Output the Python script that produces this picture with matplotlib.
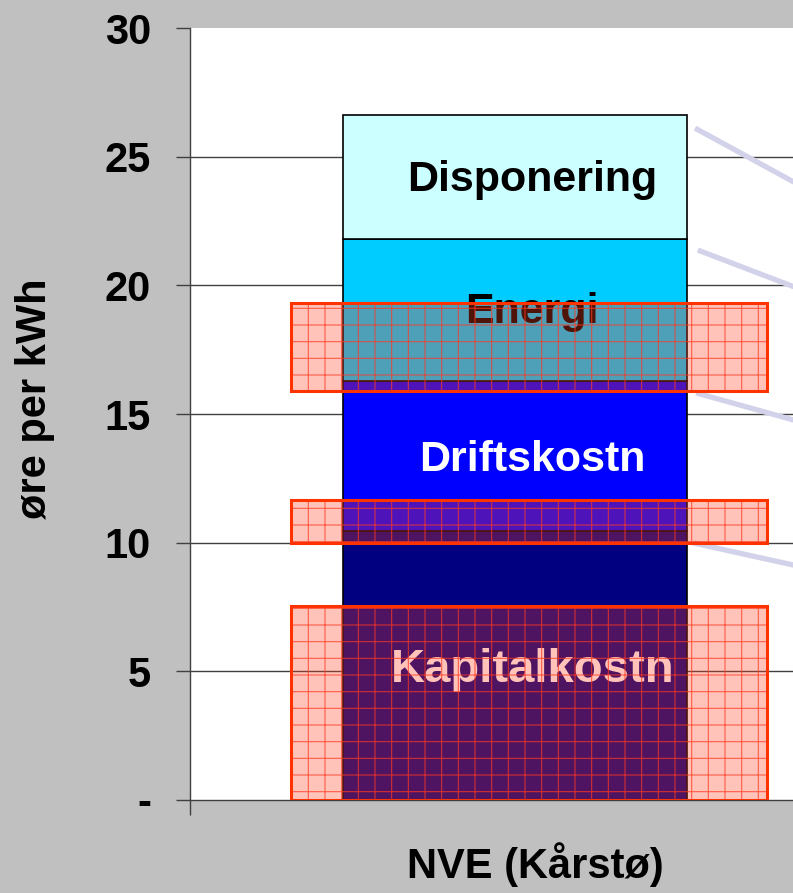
import matplotlib
matplotlib.use("Agg")
import matplotlib.pyplot as plt
import numpy as np

plt.rcParams['font.family'] = ['Liberation Sans', 'DejaVu Sans']
plt.rcParams['hatch.linewidth'] = 0.8

# ---- data ----
category = "NVE (Kårstø)"
segment_names = ["Kapitalkostn", "Driftskostn", "Energi", "Disponering"]
segment_values = [10.45, 5.85, 5.5, 4.8]          # stacked, øre per kWh
segment_colors = ["#000080", "#0000ff", "#00ccff", "#ccffff"]
label_colors = ["white", "white", "black", "black"]
label_sizes = [34, 31, 31, 31]
label_y = [5.05, 13.2, 18.95, 24.1]

# highlighted ranges (bottom, top)
band_bottoms = [0.0, 10.0, 15.9]
band_tops = [7.55, 11.65, 19.3]

# leader lines (x0, y0, x1, y1) in data units
leader_x0 = [0.314, 0.319, 0.316, 0.311]
leader_y0 = [26.11, 21.37, 15.82, 9.99]
leader_x1 = [0.50, 0.50, 0.50, 0.50]
leader_y1 = [23.85, 19.83, 14.68, 9.06]

yticks = [0, 5, 10, 15, 20, 25, 30]
yticklabels = ["-", "5", "10", "15", "20", "25", "30"]

# ---- figure ----
W, H = 793, 893
fig = plt.figure(figsize=(W / 100, H / 100), dpi=100)
fig.patch.set_facecolor("#c0c0c0")
ax = fig.add_axes([190 / W, (H - 800) / H, (W - 190) / W, (800 - 28) / H])
ax.set_facecolor("white")

ax.set_ylim(0, 30)
ax.set_xlim(-0.567, 0.485)

# gridlines
for v in yticks[1:-1]:
    ax.axhline(v, color="#404040", lw=1.0, zorder=0.5)

# stacked bar
bottom = 0.0
for val, col in zip(segment_values, segment_colors):
    ax.bar(0, val, width=0.6, bottom=bottom, color=col, edgecolor="black",
           linewidth=1.2, zorder=2)
    bottom += val

# labels inside the bar
for name, y, c, fs in zip(segment_names, label_y, label_colors, label_sizes):
    ax.text(0.03, y, name, ha="center", va="center", fontsize=fs,
            fontweight="bold", color=c, zorder=3)

# highlight bands
band_center = 0.0245
band_width = 0.831
for b, t in zip(band_bottoms, band_tops):
    ax.bar(band_center, t - b, width=band_width, bottom=b,
           color=(1.0, 0.25, 0.12, 0.31), edgecolor=(1.0, 0.22, 0.12, 0.75),
           hatch="+", linewidth=0, zorder=4)
    ax.bar(band_center, t - b, width=band_width, bottom=b, fill=False,
           edgecolor="#ff3300", linewidth=2.2, zorder=5)

# leader lines
for x0, y0, x1, y1 in zip(leader_x0, leader_y0, leader_x1, leader_y1):
    ax.plot([x0, x1], [y0, y1], color="#d2d2ea", lw=3.8, solid_capstyle="butt",
            zorder=1)

# axes styling
for s in ["top", "right"]:
    ax.spines[s].set_visible(False)
ax.spines["left"].set_color("#404040")
ax.spines["bottom"].set_color("#404040")
ax.spines["left"].set_linewidth(1.0)
ax.spines["bottom"].set_linewidth(1.0)

ax.set_yticks(yticks)
ax.set_yticklabels(yticklabels, fontsize=30, fontweight="bold")
ax.tick_params(axis="y", direction="out", length=10, width=1, color="#404040",
               pad=18)
ax.set_xticks([-0.567])
ax.set_xticklabels([""])
ax.tick_params(axis="x", direction="out", length=11, width=1, color="#404040")

fig.text(35 / W, (H - 399) / H, "øre per kWh", rotation=90, ha="center",
         va="center", fontsize=30, fontweight="bold")
fig.text(535 / W, (H - 865) / H, category, ha="center", va="center",
         fontsize=30, fontweight="bold")

fig.savefig("out.png", dpi=100, facecolor=fig.get_facecolor())
